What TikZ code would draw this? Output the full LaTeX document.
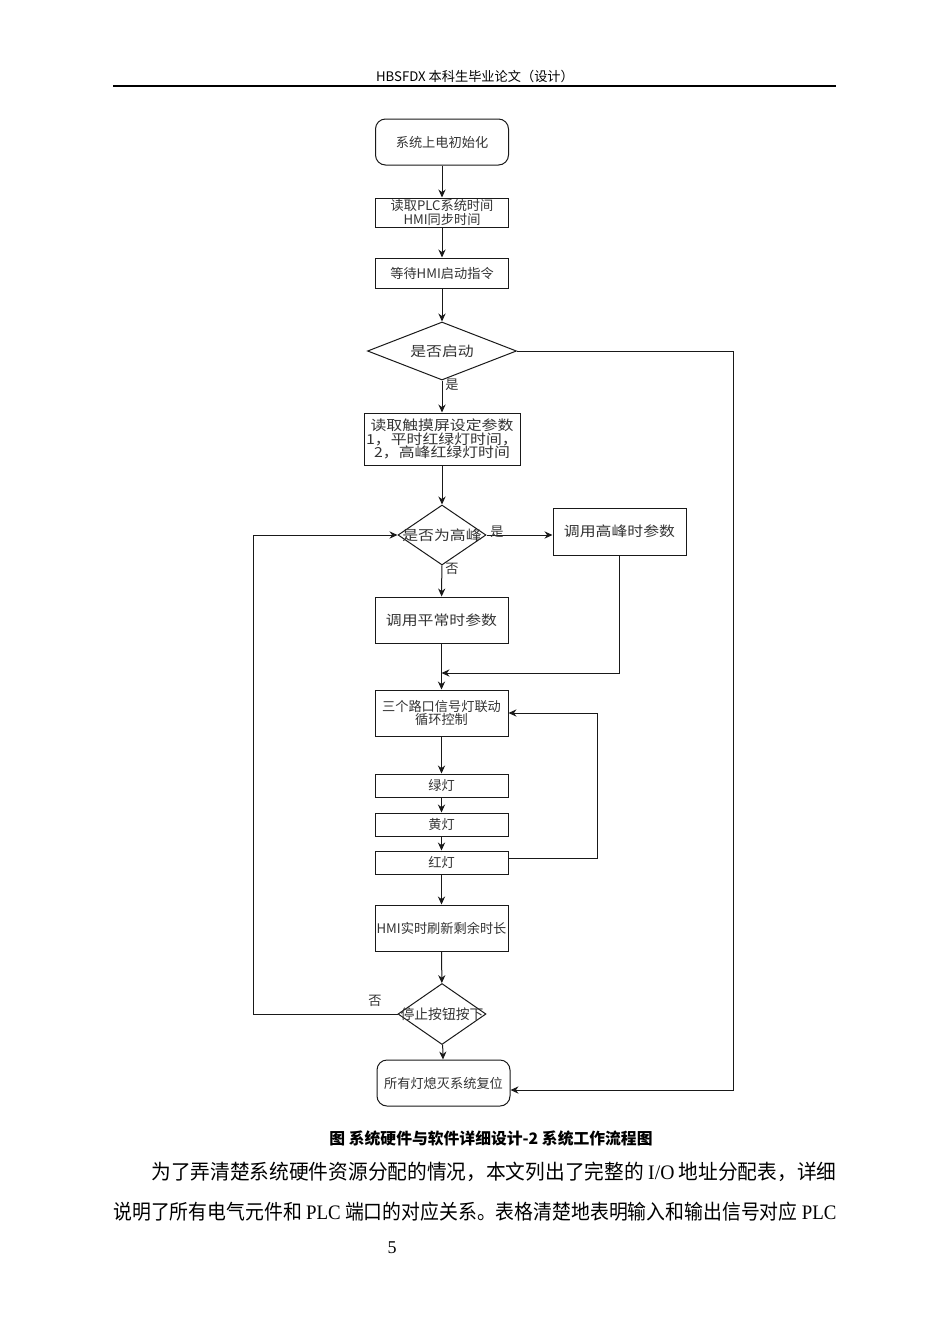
\documentclass[tikz,border=0pt]{standalone}
\usepackage{fontspec}
\usepackage{graphicx}
\setmainfont{Liberation Serif}
\newfontfamily\cjk{Noto Sans CJK SC}
\newfontfamily\cjks[FakeStretch=1.15]{Noto Sans CJK SC}
\usetikzlibrary{shapes.geometric,arrows.meta}
\colorlet{txt}{black!80}
\colorlet{lc}{black!90}
\begin{document}
\begin{tikzpicture}[x=0.5pt,y=-0.5pt,
  box/.style={draw=lc, line width=0.5pt, minimum width=66.5pt, inner sep=0.5pt, align=center,
    text=txt, font=\cjk\fontsize{6.6}{6.8}\selectfont},
  sbox/.style={box, font=\cjks\fontsize{6.9}{6.6}\selectfont},
  rbox/.style={box, rounded corners=5pt},
  dia/.style={draw=lc, diamond, line width=0.5pt, inner sep=0pt, text=txt, font=\cjks\fontsize{6.9}{7}\selectfont},
  arr/.style={draw=lc, -{Stealth[length=4pt,width=3.6pt]}, line width=0.5pt},
  lbl/.style={inner sep=0pt, text=txt, font=\cjk\fontsize{6.6}{7}\selectfont},
  body/.style={inner sep=0pt, anchor=west, font=\cjk\fontsize{10.3}{12}\selectfont}]
\useasboundingbox (0,0) rectangle (950,1344);
\fill[white] (0,0) rectangle (950,1344);
% header
\node[inner sep=0pt, font=\cjk\fontsize{6.6}{8}\selectfont] (hdr) at (475,76) {HBSFDX 本科生毕业论文（设计）};
\draw[line width=1pt] (113,86) -- (836,86);
% flowchart nodes
\node[rbox, minimum height=23pt] (n1) at (442,142) {系统上电初始化};
\node[box, minimum height=14.5pt] (n2) at (442,212.5) {读取PLC系统时间\\HMI同步时间};
\node[box, minimum height=15pt] (n3) at (442,273) {等待HMI启动指令};
\node[dia, minimum width=74.5pt, minimum height=29pt] (d1) at (442,351) {\makebox[0pt]{是否启动}};
\node[sbox, minimum width=78pt, minimum height=26pt] (n4) at (442,439) {读取触摸屏设定参数\\1，平时红绿灯时间，\\2，高峰红绿灯时间};
\node[dia, minimum width=44pt, minimum height=30pt] (d2) at (442,535) {\makebox[0pt]{是否为高峰}};
\node[sbox, minimum height=23.5pt] (n5) at (619.5,531.5) {调用高峰时参数};
\node[sbox, minimum height=23pt] (n6) at (441.5,620) {调用平常时参数};
\node[box, minimum height=23pt] (n7) at (441.5,713) {三个路口信号灯联动\\循环控制};
\node[box, minimum height=11.5pt] (n8) at (441.5,785.5) {绿灯};
\node[box, minimum height=11.5pt] (n9) at (441.5,824.5) {黄灯};
\node[box, minimum height=11.5pt] (n10) at (441.5,862.5) {红灯};
\node[box, minimum height=23pt] (n11) at (441.5,928) {HMI实时刷新剩余时长};
\node[dia, minimum width=44pt, minimum height=30.5pt, font=\cjk\fontsize{6.9}{7}\selectfont] (d3) at (442,1014) {\makebox[0pt]{停止按钮按下}};
\node[rbox, minimum height=23pt] (n12) at (443.5,1083) {所有灯熄灭系统复位};
% waypoints
\coordinate (r1) at (733,351);
\coordinate (r2) at (733,1090);
\coordinate (m1) at (441.5,673);
\coordinate (r3) at (597,713);
\coordinate (l1) at (253,1014);
\coordinate (l2) at (253,535);
% connectors
\draw[arr] (n1) -- (n2);
\draw[arr] (n2) -- (n3);
\draw[arr] (n3) -- (d1);
\draw[arr] (d1) -- (n4);
\draw[arr] (n4) -- (d2);
\draw[arr] (d2.east) -- (d2.east -| n5.west);
\draw[arr] (d2) -- (n6);
\draw[arr] (n6) -- (n7);
\draw[arr] (n5.south) |- (m1);
\draw[arr] (n7) -- (n8);
\draw[arr] (n8) -- (n9);
\draw[arr] (n9) -- (n10);
\draw[arr] ([yshift=2.25pt]n10.east) -| (r3) -- (n7.east);
\draw[arr] (n10) -- (n11);
\draw[arr] (n11) -- (d3);
\draw[arr] (d3) -- (n12);
\draw[arr] (d3.west) -- (l1) -- (l2) -- (d2.west);
\draw[arr] (d1.east) -- (r1) -- (r2) -- (r2 -| n12.east);
% labels
\node[lbl] (ly1) at (452,385) {是};
\node[lbl] (ly2) at (497,532) {是};
\node[lbl] (ln1) at (452,569) {否};
\node[lbl] (ln2) at (375,1001) {否};
% caption and text
\node[inner sep=0pt, font=\cjk\bfseries\fontsize{7.9}{9}\selectfont] (cap) at (491,1138) {图 系统硬件与软件详细设计-2 系统工作流程图};
\node[body] (p1) at (151,1172) {\resizebox{342.5pt}{\height}{为了弄清楚系统硬件资源分配的情况，本文列出了完整的 {\rmfamily I/O} 地址分配表，详细}};
\node[body] (p2) at (113,1212) {\resizebox{361.5pt}{\height}{说明了所有电气元件和 {\rmfamily PLC} 端口的对应关系。表格清楚地表明输入和输出信号对应 {\rmfamily PLC}}};
\node[inner sep=0pt, font=\fontsize{9}{10}\selectfont] (pg) at (392,1248) {5};
\end{tikzpicture}
\end{document}
